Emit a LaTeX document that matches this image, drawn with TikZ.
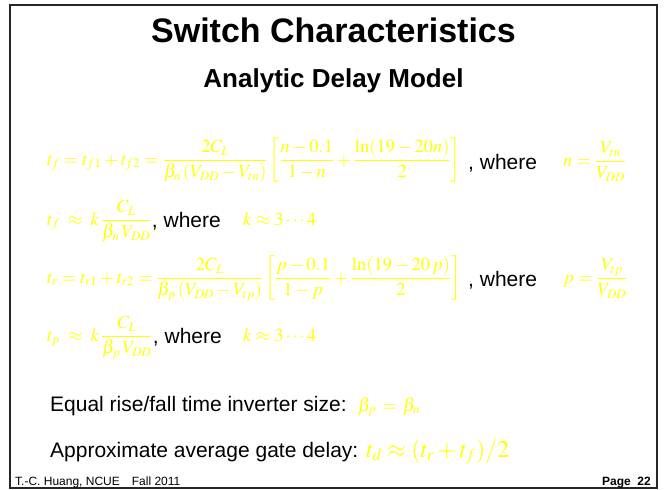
\documentclass[tikz,border=0pt]{standalone}
\usepackage{amsmath}
\usepackage{mathptmx}
\usepackage[no-math]{fontspec}
\setmainfont{Liberation Sans}
\DeclareMathSizes{18.5}{18.5}{13}{10}
\DeclareMathSizes{24}{24}{17}{12}
\definecolor{yel}{RGB}{255,255,0}
\begin{document}
\begin{tikzpicture}[x=1pt,y=-1pt,
  titlestyle/.style={anchor=base, inner sep=0, font=\fontsize{34}{38}\selectfont\bfseries},
  substyle/.style={anchor=base, inner sep=0, font=\fontsize{26}{30}\selectfont\bfseries},
  eq/.style={text=yel, anchor=base west, inner sep=0, font=\fontsize{18.5}{22}\selectfont},
  bigeq/.style={text=yel, anchor=base west, inner sep=0, font=\fontsize{24}{28}\selectfont},
  body/.style={anchor=base west, inner sep=0, font=\fontsize{21}{25}\selectfont},
  foot/.style={inner sep=0, font=\fontsize{12}{14}\selectfont}]
\useasboundingbox (0,0) rectangle (667,490);
\draw[line width=2pt, black!85] (10,5) rectangle (657,488);

\node[titlestyle] (title) at (333.5,42) {Switch Characteristics};
\node[substyle] (sub) at (333.5,87) {Analytic Delay Model};

% line 1
\node[eq] (e1) at (47,165) {$t_f = t_{f1}+t_{f2} = \dfrac{2C_L}{\beta_n\,(V_{DD}-V_{tn})}\left[\dfrac{n-0.1}{1-n}+\dfrac{\ln(19-20n)}{2}\right]$};
\node[body] (w1) at (468,169) {, where};
\node[eq] (n1) at (563,166) {$n=\dfrac{V_{tn}}{V_{DD}}$};

% line 2
\node[eq] (e2) at (47,225) {$t_f\;\approx\;k\,\dfrac{C_L}{\beta_n\,V_{DD}}$};
\node[body] (w2) at ([yshift=-2pt]e2.base east) {, where};
\node[eq] (k1) at (243,225) {$k\approx 3\cdots 4$};

% line 3
\node[eq] (e3) at (47,283) {$t_r = t_{r1}+t_{r2} = \dfrac{2C_L}{\beta_p\,(V_{DD}-V_{tp})}\left[\dfrac{p-0.1}{1-p}+\dfrac{\ln(19-20\,p)}{2}\right]$};
\node[body] (w3) at (468,286) {, where};
\node[eq] (p1) at (563,283) {$p=\dfrac{V_{tp}}{V_{DD}}$};

% line 4
\node[eq] (e4) at (47,341) {$t_p\;\approx\;k\,\dfrac{C_L}{\beta_p\,V_{DD}}$};
\node[body] (w4) at ([yshift=-2pt]e4.base east) {, where};
\node[eq] (k2) at (243,341) {$k\approx 3\cdots 4$};

% bottom lines
\node[body] (eq5) at (50,411) {Equal rise/fall time inverter size:};
\node[eq] (b5) at (358,411) {$\beta_p\,=\,\beta_n$};
\node[body] (ap) at (50,457) {Approximate average gate delay:};
\node[bigeq] (td) at (366,457) {$t_d\approx(t_r+t_f)/2$};

% footer
\node[foot, anchor=base west] (f1) at (15,485) {T.-C. Huang, NCUE\quad Fall 2011};
\node[foot, anchor=base east, font=\fontsize{12}{14}\selectfont\bfseries] (f2) at (651,485) {Page\ \ 22};
\end{tikzpicture}
\end{document}
